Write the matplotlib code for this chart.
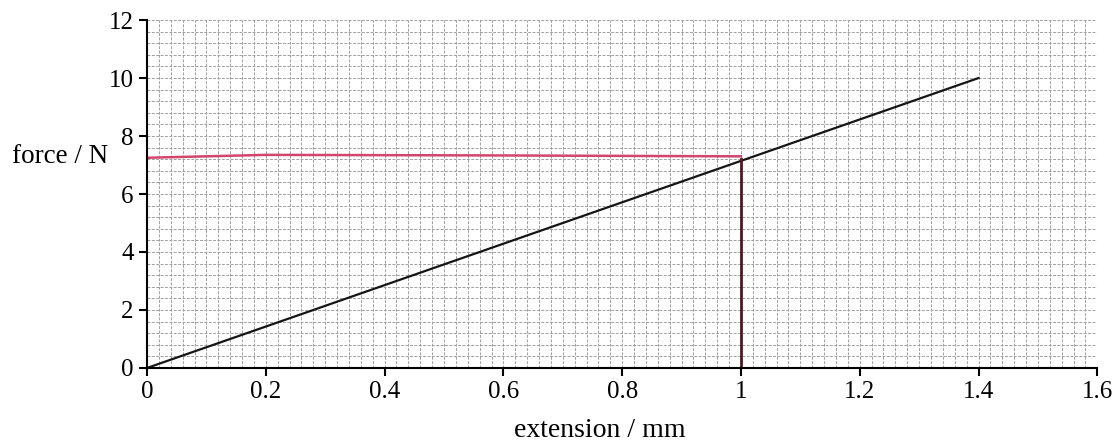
import numpy as np
import matplotlib
matplotlib.use("Agg")
import matplotlib.pyplot as plt
from matplotlib.ticker import MultipleLocator

# data
line_x = [0.0, 1.4]
line_f = [0.0, 10.0]
red_h_x = [0.0, 0.2, 0.6, 1.0]
red_h_f = [7.25, 7.35, 7.33, 7.3]
red_v_x = [1.0, 1.0]
red_v_f = [7.2, 0.0]
xticks = [0, 0.2, 0.4, 0.6, 0.8, 1.0, 1.2, 1.4, 1.6]
xticklabels = ["0", "0.2", "0.4", "0.6", "0.8", "1", "1.2", "1.4", "1.6"]
yticks = [0, 2, 4, 6, 8, 10, 12]

plt.rcParams["font.family"] = ["Liberation Serif", "DejaVu Serif"]

fig = plt.figure(figsize=(11.14, 4.46), dpi=100)
ax = fig.add_axes([0.132, 0.175, 0.853, 0.78])

ax.set_xlim(0, 1.6); ax.set_ylim(0, 12)
ax.xaxis.set_minor_locator(MultipleLocator(0.02))
ax.yaxis.set_minor_locator(MultipleLocator(0.4))
ax.grid(which="both", color="#a0a0a0", lw=0.7, ls=(0, (3, 1.5)))
ax.set_axisbelow(True)

ax.plot(line_x, line_f, color="#151515", lw=1.6)
ax.plot(red_h_x, red_h_f, color="#d2466e", lw=1.8)
ax.plot(red_v_x, red_v_f, color="#4a1a22", lw=2.0)

ax.set_xticks(xticks); ax.set_xticklabels(xticklabels)
ax.set_yticks(yticks)
ax.tick_params(which="major", length=6, width=1.5, labelsize=18, direction="out")
ax.tick_params(which="minor", length=0)
for s in ["top", "right"]:
    ax.spines[s].set_visible(False)
for s in ["left", "bottom"]:
    ax.spines[s].set_linewidth(1.5)

fig.text(0.538, 0.035, "extension / mm", fontsize=20, va="center", ha="center")
fig.text(0.011, 0.648, "force / N", fontsize=19.5, va="center", ha="left")

plt.savefig("out.png", dpi=100)
